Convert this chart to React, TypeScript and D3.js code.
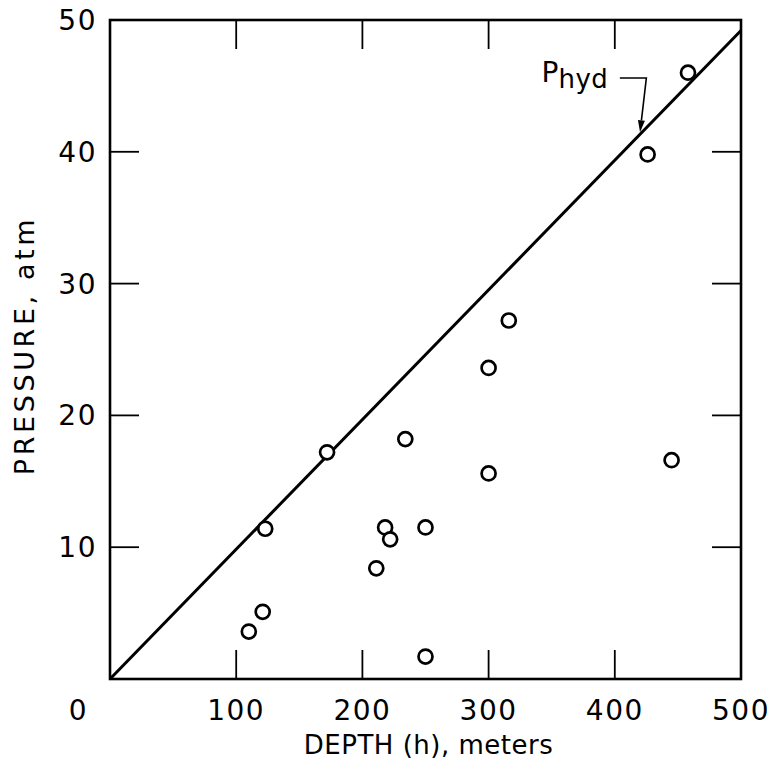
import React from "react";
import * as d3 from "d3";

// measured points: depth (m) vs pressure (atm)
const depth = [110, 121, 123, 172, 211, 218, 222, 234, 250, 250, 300, 300, 316, 426, 445, 458];
const pressure = [3.6, 5.1, 11.4, 17.2, 8.4, 11.5, 10.6, 18.2, 11.5, 1.7, 23.6, 15.6, 27.2, 39.8, 16.6, 46.0];

// hydrostatic line
const hydDepth = [0, 500];
const hydPressure = [0, 49.2];

const xTicks = [0, 100, 200, 300, 400, 500];
const yTicks = [10, 20, 30, 40, 50];
const innerXTicks = [100, 200, 300, 400];
const innerYTicks = [10, 20, 30, 40];

// annotation anchor (data units)
const labelAt = { depth: 342, pressure: 45.3 };
const leaderStart = { depth: 404, pressure: 45.6 };
const leaderCorner = { depth: 425, pressure: 45.6 };
const arrowDepth = 420;

const FONT = "'DejaVu Sans', sans-serif";

export default function App() {
  const width = 772;
  const height = 767;
  const x = d3.scaleLinear().domain([0, 500]).range([110, 741]);
  const y = d3.scaleLinear().domain([0, 50]).range([679, 20]);
  const hyd = d3.scaleLinear().domain(hydDepth).range(hydPressure);
  const tickLen = 29;

  const line = d3
    .line<number>()
    .x(d => x(d))
    .y(d => y(hyd(d)));

  // leader + arrowhead
  const cx = x(leaderCorner.depth);
  const cy = y(leaderCorner.pressure);
  const tx = x(arrowDepth);
  const ty = y(hyd(arrowDepth)) - 2;
  const ang = Math.atan2(ty - cy, tx - cx);
  const aLen = 12;
  const aW = 3.5;
  const bx = tx - aLen * Math.cos(ang);
  const by = ty - aLen * Math.sin(ang);
  const head = [
    [tx, ty],
    [bx + aW * Math.sin(ang), by - aW * Math.cos(ang)],
    [bx - aW * Math.sin(ang), by + aW * Math.cos(ang)]
  ];

  const [x0, x1] = x.range();
  const [y0, y1] = y.range();

  return (
    <svg
      width={width}
      height={height}
      style={{ position: "absolute", left: 0, top: 0, background: "#fff" }}
      fontFamily={FONT}
    >
      <rect x={0} y={0} width={width} height={height} fill="#fff" />

      {/* ticks pointing inward on all sides */}
      <g stroke="#000" strokeWidth={1.8}>
        {innerXTicks.map(t => (
          <g key={`xt${t}`}>
            <line x1={x(t)} x2={x(t)} y1={y0} y2={y0 - tickLen} />
            <line x1={x(t)} x2={x(t)} y1={y1} y2={y1 + tickLen} />
          </g>
        ))}
        {innerYTicks.map(t => (
          <g key={`yt${t}`}>
            <line x1={x0} x2={x0 + tickLen} y1={y(t)} y2={y(t)} />
            <line x1={x1} x2={x1 - tickLen} y1={y(t)} y2={y(t)} />
          </g>
        ))}
      </g>

      {/* frame */}
      <rect
        x={x0}
        y={y1}
        width={x1 - x0}
        height={y0 - y1}
        fill="none"
        stroke="#000"
        strokeWidth={2.6}
      />

      {/* tick labels */}
      <g fontSize={28} fill="#000">
        {xTicks.map(t => (
          <text
            key={`xl${t}`}
            x={t === 0 ? x(t) - 22 : x(t)}
            y={720}
            textAnchor={t === 0 ? "end" : "middle"}
            letterSpacing={1.5}
          >
            {t}
          </text>
        ))}
        {yTicks.map(t => (
          <text
            key={`yl${t}`}
            x={97}
            y={y(t)}
            dy="0.36em"
            textAnchor="end"
            letterSpacing={1.5}
          >
            {t}
          </text>
        ))}
      </g>

      {/* axis titles */}
      <text
        x={(x0 + x1) / 2 + 3}
        y={754}
        textAnchor="middle"
        fontSize={26}
        letterSpacing={0.5}
      >
        DEPTH (h), meters
      </text>
      <text
        transform={`translate(34,${(y0 + y1) / 2 - 4}) rotate(-90)`}
        textAnchor="middle"
        fontSize={27}
        letterSpacing={3.6}
      >
        PRESSURE, atm
      </text>

      {/* hydrostatic line */}
      <path d={line(hydDepth) || ""} fill="none" stroke="#000" strokeWidth={3} />

      {/* annotation */}
      <text x={x(labelAt.depth)} y={y(labelAt.pressure)} fontSize={28}>
        P
        <tspan dy={6} fontSize={26} letterSpacing={0.5}>
          hyd
        </tspan>
      </text>
      <path
        d={`M${x(leaderStart.depth)},${y(leaderStart.pressure)}L${cx},${cy}L${bx},${by}`}
        fill="none"
        stroke="#000"
        strokeWidth={1.6}
      />
      <polygon points={head.map(p => p.join(",")).join(" ")} fill="#000" />

      {/* data points */}
      <g fill="#fff" stroke="#000" strokeWidth={2.7}>
        {depth.map((d, i) => (
          <circle key={i} cx={x(d)} cy={y(pressure[i])} r={7} />
        ))}
      </g>
    </svg>
  );
}
